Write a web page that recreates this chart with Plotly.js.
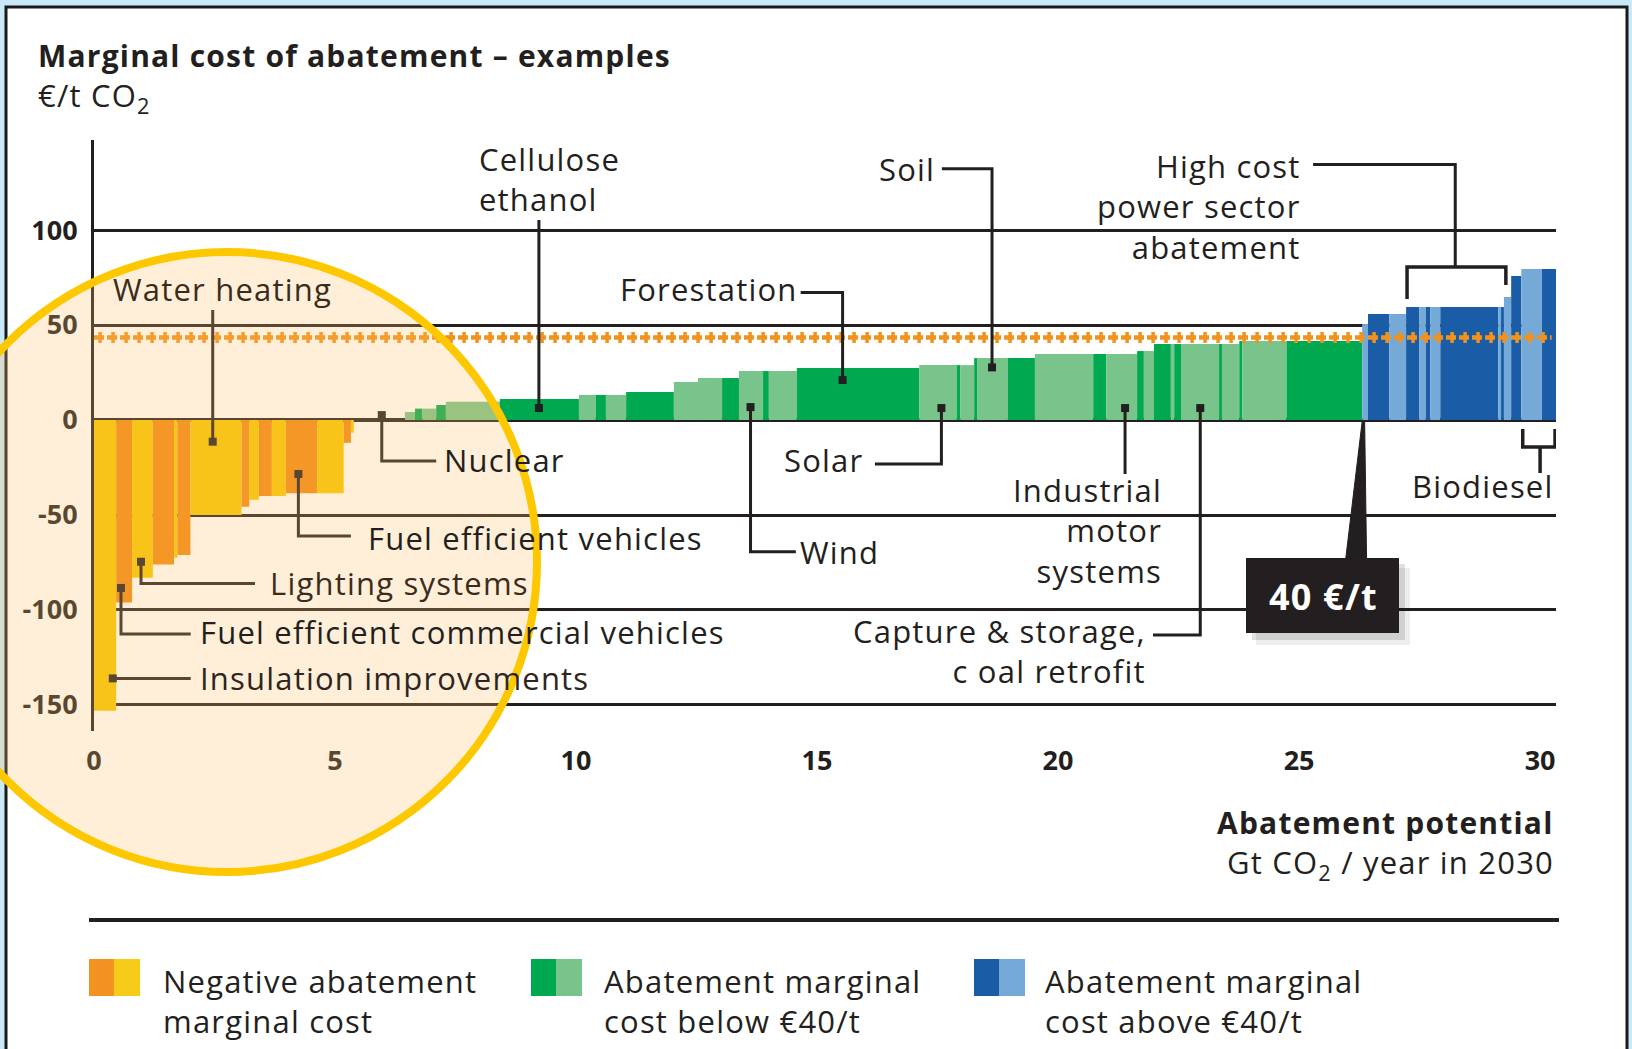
<!DOCTYPE html>
<html><head><meta charset="utf-8">
<script src="https://cdn.plot.ly/plotly-3.0.1.min.js"></script>
<style>html,body{margin:0;padding:0;background:#c9e9f8;} #chart{width:1632px;height:1049px;}
.annotation-text{letter-spacing:1.2px;}</style>
</head><body><div id="chart"></div>
<script>
// ---- data: abatement steps (Gt CO2 / year in 2030, €/t CO2) ----
const barStart = [0.00,0.46,0.79,1.22,1.66,1.73,2.00,3.06,3.22,3.42,3.69,3.98,4.63,5.18,5.33,
  6.45,6.66,6.81,7.10,7.30,8.42,10.06,10.41,10.62,11.04,12.03,12.53,13.03,13.38,13.88,14.00,14.58,
  17.12,17.90,17.97,18.26,18.32,18.96,19.52,20.73,21.00,21.64,21.78,21.99,22.34,22.41,22.55,23.34,
  23.40,23.76,23.82,24.74,
  26.31,26.43,26.87,27.22,27.49,27.63,27.72,27.93,29.13,29.19,29.25,29.40,29.61,30.04];
const barEnd = [0.46,0.79,1.22,1.66,1.73,2.00,3.06,3.22,3.42,3.69,3.98,4.63,5.18,5.33,5.39,
  6.66,6.81,7.10,7.30,8.42,10.06,10.41,10.62,11.04,12.03,12.53,13.03,13.38,13.88,14.00,14.58,17.12,
  17.90,17.97,18.26,18.32,18.96,19.52,20.73,21.00,21.64,21.78,21.99,22.34,22.41,22.55,23.34,23.40,
  23.76,23.82,24.74,26.31,
  26.43,26.87,27.22,27.49,27.63,27.72,27.93,29.13,29.19,29.25,29.40,29.61,30.04,30.33];
const barCost = [-153,-96,-83,-76,-72.5,-71,-50,-45.6,-42,-40,-40,-38.6,-38.6,-12,-6.7,
  4.2,6.0,6.0,7.9,9.6,11.0,13.2,13.2,13.2,14.7,20.0,22.1,22.1,25.8,25.8,25.8,27.4,
  28.9,28.9,28.9,32.6,32.6,32.6,34.7,34.7,34.7,36.3,36.3,40.0,40.0,40.0,40.0,40.0,
  40.0,41.6,41.6,41.6,
  50.5,55.8,55.8,59.5,59.5,59.5,59.5,59.5,59.5,59.5,64.7,75.8,79.5,79.5];
const barGroup = ['NY','NO','NY','NO','NY','NO','NY','NO','NY','NO','NY','NO','NY','NO','NY',
  'GL','GD','GL','GD','GL','GD','GL','GD','GL','GD','GL','GL','GD','GL','GD','GL','GD',
  'GL','GD','GL','GD','GL','GD','GL','GD','GL','GD','GL','GD','GL','GD','GL','GD',
  'GL','GD','GL','GD',
  'BL','BD','BL','BD','BL','BD','BL','BD','BL','BD','BL','BD','BL','BD'];
const thresholdCost = 43.5;
const xTickVals = [0,5,10,15,20,25,30];
const yTickVals = [-150,-100,-50,0,50,100];
const yTickText = ['-150','-100','-50','0','50','100'];
const legendLabels = ['Negative abatement<br>marginal cost','Abatement marginal<br>cost below €40/t','Abatement marginal<br>cost above €40/t'];

// ---- styles ----
const groupColor = {NO:'#f08a12', NY:'#f6c600', GD:'#00a84f', GL:'#78c48b', BD:'#1a5ca6', BL:'#75a9d7'};
const INK = '#231f20';
const FONT = 'Open Sans, Liberation Sans, sans-serif';
const FS = 31;
const L=94, R=1556, T=140, B=731;
const PX = p => (p - L)/(R - L);
const PY = p => (B - p)/(B - T);

const barTrace = {
  type:'bar',
  x: barStart.map((s,i)=>(s+barEnd[i])/2),
  width: barStart.map((s,i)=>barEnd[i]-s),
  y: barCost,
  marker:{color: barGroup.map(g=>groupColor[g]), line:{width:0}},
  hoverinfo:'skip', showlegend:false
};

// callouts: text, text pos, anchor, leader path (data units), dot
const callouts = [
  {t:'Cellulose<br>ethanol', x:7.95, y:127.1, xa:'left', path:[[9.23,105.3],[9.23,6.3]], dot:[9.23,6.3]},
  {t:'Water heating', x:0.353, y:68.9, xa:'left', path:[[2.463,57.9],[2.463,-11.4]], dot:[2.463,-11.4], c:'#3a2c1c'},
  {t:'Forestation', x:10.88, y:68.9, xa:'left', path:[[14.66,67.1],[15.53,67.1],[15.53,21.05]], dot:[15.53,21.05]},
  {t:'Soil', x:17.49, y:132.1, xa:'right', path:[[17.59,132.3],[18.63,132.3],[18.63,27.7]], dot:[18.63,27.7]},
  {t:'High cost<br>power sector<br>abatement', x:25.08, y:112.6, xa:'right', path:[[25.29,134.5],[28.24,134.5],[28.24,80.5]]},
  {t:'Nuclear', x:7.22, y:-21, xa:'left', path:[[5.97,2.6],[5.97,-21.6],[7.10,-21.6]], dot:[5.97,2.6]},
  {t:'Solar', x:16.0, y:-21, xa:'right', path:[[16.2,-23.2],[17.58,-23.2],[17.58,6.3]], dot:[17.58,6.3]},
  {t:'Fuel efficient vehicles', x:5.64, y:-62.1, xa:'left', path:[[4.24,-28.4],[4.24,-61.1],[5.33,-61.1]], dot:[4.24,-28.4]},
  {t:'Wind', x:14.6, y:-69.5, xa:'left', path:[[13.62,6.8],[13.62,-69.3],[14.56,-69.3]], dot:[13.62,6.8]},
  {t:'Industrial<br>motor<br>systems', x:22.2, y:-57.9, xa:'right', path:[[21.39,6.3],[21.39,-28.4]], dot:[21.39,6.3]},
  {t:'Capture & storage,<br>c oal retrofit', x:21.87, y:-121.6, xa:'right', path:[[21.97,-113.2],[22.95,-113.2],[22.95,6.3]], dot:[22.95,6.3]},
  {t:'Lighting systems', x:3.61, y:-85.8, xa:'left', path:[[0.975,-74.6],[0.975,-86],[3.34,-86]], dot:[0.975,-74.6], c:'#3a2c1c'},
  {t:'Fuel efficient commercial vehicles', x:2.16, y:-111.6, xa:'left', path:[[0.56,-88.4],[0.56,-112.6],[2.006,-112.6]], dot:[0.56,-88.4]},
  {t:'Insulation improvements', x:2.16, y:-135.8, xa:'left', path:[[0.39,-136],[2.006,-136]], dot:[0.39,-136], c:'#2e2520'},
  {t:'Biodiesel', x:28.82, y:-34.7, xa:'center'}
];

const dotTrace = {
  type:'scatter', mode:'markers',
  x: callouts.filter(c=>c.dot).map(c=>c.dot[0]),
  y: callouts.filter(c=>c.dot).map(c=>c.dot[1]),
  marker:{symbol:'square', size:8, color:INK},
  hoverinfo:'skip', showlegend:false
};

const pathStr = pts => pts.map((p,i)=>(i?'L':'M')+p[0]+','+p[1]).join(' ');
const shapes = [];
// card
shapes.push({type:'rect', xref:'paper', yref:'paper', x0:PX(6), x1:PX(1627), y0:PY(1080), y1:PY(7),
  fillcolor:'#ffffff', line:{color:'#1a1a1a', width:3}, layer:'below'});
// threshold dotted line
shapes.push({type:'line', xref:'x', yref:'y', x0:0, x1:30.24, y0:thresholdCost, y1:thresholdCost,
  line:{color:'#f0921e', width:4.5, dash:'10px,3px'}, layer:'above'});
shapes.push({type:'line', xref:'x', yref:'y', x0:0.09, x1:30.24, y0:thresholdCost, y1:thresholdCost,
  line:{color:'#f0921e', width:11, dash:'3.5px,9.5px'}, layer:'above'});
// leaders
callouts.forEach(c=>{ if(c.path) shapes.push({type:'path', xref:'x', yref:'y', path:pathStr(c.path),
  line:{color:INK, width:3}, layer:'above'}); });
// high-cost bracket
shapes.push({type:'path', xref:'x', yref:'y', path:pathStr([[27.24,63.7],[27.24,80.5],[29.29,80.5],[29.29,71.1]]),
  line:{color:INK, width:3.5}, layer:'above'});
// biodiesel bracket
shapes.push({type:'path', xref:'x', yref:'y', path:pathStr([[29.64,-4.7],[29.64,-14.2],[30.31,-14.2],[30.31,-4.7]]),
  line:{color:INK, width:3.5}, layer:'above'});
shapes.push({type:'path', xref:'x', yref:'y', path:pathStr([[30.0,-14.2],[30.0,-27.9]]),
  line:{color:INK, width:3.5}, layer:'above'});
// 40 €/t box: shadow, taper, box
shapes.push({type:'rect', xref:'paper', yref:'paper', x0:PX(1256), x1:PX(1410), y0:PY(645), y1:PY(568),
  fillcolor:'rgba(0,0,0,0.07)', line:{width:0}, layer:'above'});
shapes.push({type:'rect', xref:'paper', yref:'paper', x0:PX(1252), x1:PX(1405), y0:PY(640), y1:PY(564),
  fillcolor:'rgba(0,0,0,0.12)', line:{width:0}, layer:'above'});
shapes.push({type:'path', xref:'x', yref:'y', path:'M26.31,-0.5 L26.36,-0.5 L26.40,-72.6 L25.97,-72.6 Z',
  fillcolor:INK, line:{color:INK, width:1}, layer:'above'});
shapes.push({type:'rect', xref:'paper', yref:'paper', x0:PX(1246), x1:PX(1399), y0:PY(633), y1:PY(558),
  fillcolor:INK, line:{width:0}, layer:'above'});
// separator line
shapes.push({type:'line', xref:'paper', yref:'paper', x0:PX(89), x1:PX(1559), y0:PY(920), y1:PY(920),
  line:{color:INK, width:4}, layer:'above'});
// legend swatches
const sw = [[89,'NO','NY'],[531,'GD','GL'],[974,'BD','BL']];
sw.forEach(s=>{
  shapes.push({type:'rect', xref:'paper', yref:'paper', x0:PX(s[0]), x1:PX(s[0]+25), y0:PY(996), y1:PY(959),
    fillcolor: s[1]==='NO' ? '#f29220' : groupColor[s[1]], line:{width:0}, layer:'above'});
  shapes.push({type:'rect', xref:'paper', yref:'paper', x0:PX(s[0]+25), x1:PX(s[0]+51), y0:PY(996), y1:PY(959),
    fillcolor: s[2]==='NY' ? '#f7cb1a' : groupColor[s[2]], line:{width:0}, layer:'above'});
});
// circle overlay (last, above everything else)
shapes.push({type:'circle', xref:'paper', yref:'paper', x0:PX(227-310), x1:PX(227+310), y0:PY(562+310), y1:PY(562-310),
  fillcolor:'rgba(255,191,99,0.25)', line:{color:'#fdc800', width:8}, layer:'above'});

const annotations = [];
const txt = (text, x, y, xa, opt={}) => Object.assign({text, x, y, xanchor:xa, yanchor:'middle', align:xa==='center'?'center':xa,
  showarrow:false, font:{family:FONT, size:FS, color:INK}}, opt);
callouts.forEach(c=>annotations.push(txt(c.t, c.x, c.y, c.xa, {xref:'x', yref:'y',
  font:{family:FONT, size:FS, color:c.c||INK}})));
annotations.push(txt('Marginal cost of abatement – examples', PX(36), PY(55), 'left',
  {xref:'paper', yref:'paper', font:{family:FONT, size:30, color:INK, weight:700}}));
annotations.push(txt('€/t CO<sub>2</sub>', PX(36), PY(97), 'left', {xref:'paper', yref:'paper'}));
annotations.push(txt('Abatement potential', PX(1556), PY(822), 'right',
  {xref:'paper', yref:'paper', font:{family:FONT, size:30, color:INK, weight:700}}));
annotations.push(txt('Gt CO<sub>2</sub> / year in 2030', PX(1556), PY(864), 'right', {xref:'paper', yref:'paper'}));
annotations.push(txt('40 €/t', PX(1323), PY(596), 'center',
  {xref:'paper', yref:'paper', font:{family:FONT, size:36, color:'#ffffff', weight:700}}));
[161,602,1043].forEach((x,i)=>annotations.push(txt(legendLabels[i], PX(x), PY(1001), 'left', {xref:'paper', yref:'paper'})));

const layout = {
  width:1632, height:1049,
  margin:{l:L, r:1632-R, t:T, b:1049-B, pad:0},
  paper_bgcolor:'#c9e9f8', plot_bgcolor:'rgba(0,0,0,0)',
  showlegend:false, hovermode:false, barmode:'overlay',
  xaxis:{range:[0,30.33], showgrid:false, zeroline:false, showline:false, ticks:'',
    tickmode:'array', tickvals:xTickVals, ticktext:xTickVals.map(String),
    tickfont:{family:FONT, size:27, color:INK, weight:700}, ticklabelstandoff:11, fixedrange:true},
  yaxis:{range:[-163.7,147.4], showgrid:true, gridcolor:INK, gridwidth:3,
    zeroline:true, zerolinecolor:INK, zerolinewidth:4, showline:true, linecolor:INK, linewidth:3,
    ticks:'', tickmode:'array', tickvals:yTickVals, ticktext:yTickText,
    tickfont:{family:FONT, size:27, color:INK, weight:700}, ticklabelstandoff:8, fixedrange:true},
  shapes, annotations
};
Plotly.newPlot('chart', [barTrace, dotTrace], layout, {staticPlot:true, displayModeBar:false});
</script></body></html>
